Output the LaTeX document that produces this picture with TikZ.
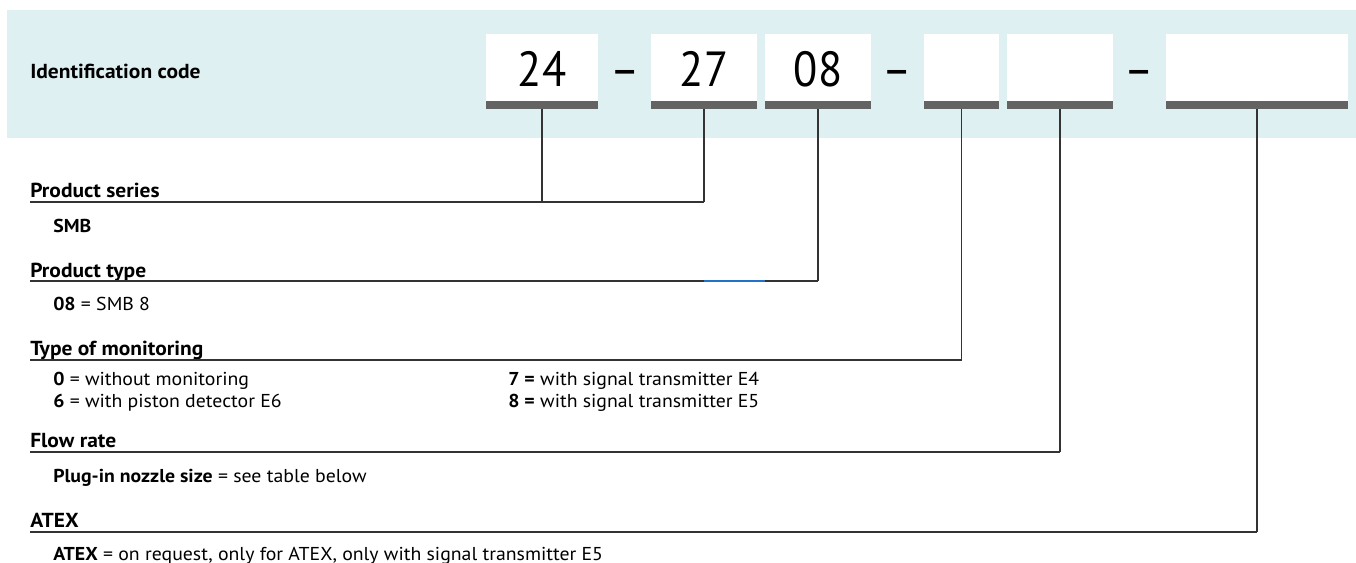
\documentclass[tikz,border=0pt]{standalone}
\usepackage{fontspec}
\setmainfont{PT Sans}[FakeStretch=1.06]
\newfontfamily\digitfont{PT Sans}[FakeStretch=0.9]
\definecolor{bandc}{HTML}{DFF0F3}
\definecolor{barc}{HTML}{636363}
\definecolor{linec}{HTML}{333333}
\definecolor{bluec}{HTML}{2272C8}
\tikzset{
  codebox/.style={fill=white, inner xsep=0pt, inner ysep=16.5pt, text height=23.25pt, text depth=0pt,
    minimum height=56.25pt, font=\digitfont\fontsize{37}{37}\selectfont,
    path picture={\fill[barc] (path picture bounding box.south west) rectangle ([yshift=6pt]path picture bounding box.south east);}},
  dashsign/.style={anchor=base, inner sep=0pt, font=\digitfont\fontsize{37}{37}\selectfont},
  hdr/.style={anchor=base west, inner sep=0pt, font=\bfseries\fontsize{15.2}{17}\selectfont},
  body/.style={anchor=base west, inner sep=0pt, font=\fontsize{14}{16}\selectfont},
  conn/.style={draw=linec, line width=0.9pt},
  blueseg/.style={draw=bluec, line width=0.9pt}
}
\begin{document}
\begin{tikzpicture}[x=0.75pt,y=-0.75pt]
\useasboundingbox (0,0) rectangle (1356,563);
% band
\fill[bandc] (7,10) rectangle (1356,138);
\node[hdr] (idc) at (30,79) {Identification code};
% code boxes
\node[codebox, minimum width=84pt]    (b1) at (542,71.5)   {24};
\node[codebox, minimum width=79.5pt]  (b2) at (704,71.5)   {27};
\node[codebox, minimum width=79.5pt]  (b3) at (818,71.5)   {08};
\node[codebox, minimum width=56.25pt] (b4) at (961.5,71.5) {};
\node[codebox, minimum width=79.5pt]  (b5) at (1060,71.5)  {};
\node[codebox, minimum width=136.5pt] (b6) at (1257,71.5)  {};
\node[dashsign] (d1) at (625,87)    {–};
\node[dashsign] (d2) at (897,87)    {–};
\node[dashsign] (d3) at (1139.5,87) {–};
% Product series
\node[hdr] (hps) at (30,197) {Product series};
\coordinate (s1) at (30,202); \coordinate (e1) at (704,202);
\draw[conn] (s1) -- (e1);
\draw[conn] (b2.south) -- (e1);
\draw[conn] (b1.south) -- (b1.south |- e1);
\node[body] (tps) at (53,232) {\textbf{SMB}};
% Product type
\node[hdr] (hpt) at (30,277) {Product type};
\coordinate (s2) at (30,281); \coordinate (e2) at (818,281);
\coordinate (bs) at (704,281); \coordinate (be) at (765,281);
\draw[conn] (s2) -- (e2);
\draw[blueseg] (bs) -- (be);
\draw[conn] (b3.south) -- (e2);
\node[body] (tpt) at (53,310) {\textbf{08} = SMB 8};
% Type of monitoring
\node[hdr] (hmo) at (30,355) {Type of monitoring};
\coordinate (s3) at (30,360); \coordinate (e3) at (961.5,360);
\draw[conn] (s3) -- (e3);
\draw[conn] (b4.south) -- (e3);
\node[body] (m0) at (53,385)  {\textbf{0} = without monitoring};
\node[body] (m6) at (53,407)  {\textbf{6} = with piston detector E6};
\node[body] (m7) at (508,385) {\textbf{7 =} with signal transmitter E4};
\node[body] (m8) at (508,407) {\textbf{8 =} with signal transmitter E5};
% Flow rate
\node[hdr] (hfr) at (30,447) {Flow rate};
\coordinate (s4) at (30,452); \coordinate (e4) at (1060,452);
\draw[conn] (s4) -- (e4);
\draw[conn] (b5.south) -- (e4);
\node[body] (tfr) at (53,482) {\textbf{Plug-in nozzle size} = see table below};
% ATEX
\node[hdr] (hat) at (30,527) {ATEX};
\coordinate (s5) at (30,532); \coordinate (e5) at (1257,532);
\draw[conn] (s5) -- (e5);
\draw[conn] (b6.south) -- (e5);
\node[body] (tat) at (53,560) {\textbf{ATEX} = on request, only for ATEX, only with signal transmitter E5};
\end{tikzpicture}
\end{document}
